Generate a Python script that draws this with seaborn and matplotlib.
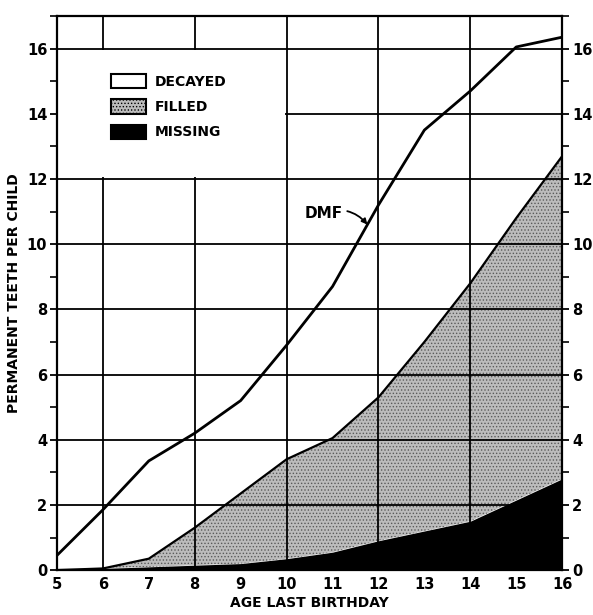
import matplotlib
matplotlib.use("Agg")
import matplotlib.pyplot as plt
from matplotlib.patches import Patch, Rectangle
from matplotlib.ticker import MultipleLocator
import seaborn as sns
import pandas as pd

# Values (teeth per child, cumulative from the bottom)
ages = [5, 6, 7, 8, 9, 10, 11, 12, 13, 14, 15, 16]
missing = [0.0, 0.05, 0.1, 0.15, 0.2, 0.35, 0.55, 0.9, 1.2, 1.5, 2.15, 2.8]
filled_top = [0.0, 0.05, 0.35, 1.3, 2.35, 3.4, 4.05, 5.3, 7.0, 8.8, 10.8, 12.7]
dmf = [0.45, 1.85, 3.35, 4.2, 5.2, 6.9, 8.7, 11.2, 13.5, 14.7, 16.05, 16.35]

df = pd.DataFrame({"age": ages, "missing": missing, "filled": filled_top, "dmf": dmf})

sns.set_style("ticks")
plt.rcParams["font.family"] = ["DejaVu Sans"]
plt.rcParams["font.weight"] = "bold"
plt.rcParams["hatch.linewidth"] = 0.6
for k in ["text.color", "axes.labelcolor", "xtick.color", "ytick.color"]:
    plt.rcParams[k] = "black"

fig = plt.figure(figsize=(5.93, 6.15), dpi=100)
ax = fig.add_axes([0.096, 0.073, 0.852, 0.901])

STIPPLE = "#bcbcbc"

# stacked areas: grid shows through the stipple, not through the black
ax.fill_between(df["age"], df["missing"], df["filled"], facecolor=STIPPLE,
                edgecolor="#5a5a5a", hatch=".....", lw=0, zorder=2)
ax.fill_between(df["age"], 0, df["missing"], color="black", lw=0, zorder=3)

# outline lines
sns.lineplot(data=df, x="age", y="filled", ax=ax, color="black", lw=1.6, zorder=4)
sns.lineplot(data=df, x="age", y="dmf", ax=ax, color="black", lw=2.0, zorder=4)

ax.set_xlim(5, 16)
ax.set_ylim(0, 17)

# grid
ax.set_axisbelow(False)
ax.yaxis.set_major_locator(MultipleLocator(2))
ax.yaxis.set_minor_locator(MultipleLocator(1))
ax.grid(axis="y", which="major", color="black", lw=1.3)
for xv in [6, 8, 10, 12, 14]:
    ax.axvline(xv, color="black", lw=1.3, zorder=2.5)

# white block behind the legend (grid lines on its border stay visible)
ax.add_patch(Rectangle((5, 12.05), 4.97, 3.9, facecolor="white", edgecolor="none", zorder=2.7))

ax.set_xticks(ages)
ax.set_xticklabels([str(a) for a in ages], fontsize=10.5, fontweight="bold")
ax.tick_params(axis="x", length=0, pad=5)
ax.tick_params(axis="y", which="major", length=5, width=1.3, labelsize=10.5, pad=2,
               left=True, right=True, labelleft=True, labelright=True, direction="out")
ax.tick_params(axis="y", which="minor", length=5, width=1.2, left=True, right=True,
               direction="out")
for lab in ax.get_yticklabels():
    lab.set_fontweight("bold")

for s in ax.spines.values():
    s.set_visible(True)
    s.set_linewidth(1.6)
    s.set_color("black")
    s.set_zorder(5)

ax.set_xlabel("AGE LAST BIRTHDAY", fontsize=10, fontweight="bold", labelpad=3)
ax.set_ylabel("PERMANENT TEETH PER CHILD", fontsize=10, fontweight="bold", labelpad=4)

# DMF annotation
ax.annotate("DMF", xy=(11.76, 10.6), xytext=(11.22, 10.95), fontsize=11,
            fontweight="bold", ha="right", va="center",
            arrowprops=dict(arrowstyle="-|>", color="black", lw=1.3,
                            connectionstyle="arc3,rad=-0.35", mutation_scale=8,
                            shrinkA=1, shrinkB=0),
            zorder=5)

# legend
handles = [
    Patch(facecolor="white", edgecolor="black", lw=1.5, label="DECAYED"),
    Patch(facecolor=STIPPLE, edgecolor="black", hatch=".....", lw=1.5, label="FILLED"),
    Patch(facecolor="black", edgecolor="black", lw=1.5, label="MISSING"),
]
leg = ax.legend(handles=handles, loc="upper left", bbox_to_anchor=(0.108, 0.895),
                frameon=False, fontsize=10, handlelength=2.5, handleheight=1.2,
                labelspacing=0.75, borderpad=0, borderaxespad=0, handletextpad=0.6)
for t in leg.get_texts():
    t.set_fontweight("bold")
leg.set_zorder(6)

fig.savefig("out.png", dpi=100)
